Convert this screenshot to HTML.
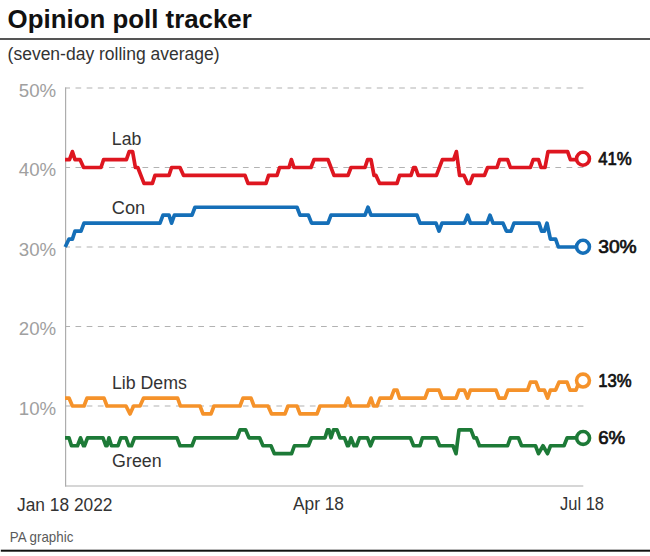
<!DOCTYPE html>
<html><head><meta charset="utf-8"><title>Opinion poll tracker</title>
<style>
html,body{margin:0;padding:0;background:#fff;}
body{width:650px;height:556px;overflow:hidden;}
svg{display:block;font-family:"Liberation Sans",sans-serif;}
</style></head><body>
<svg width="650" height="556" viewBox="0 0 650 556">
<rect width="650" height="556" fill="#fff"/>
<text x="7.6" y="28" font-size="25.8" textLength="244.2" lengthAdjust="spacingAndGlyphs" font-weight="bold" fill="#111">Opinion poll tracker</text>
<rect x="0" y="38" width="650" height="2" fill="#555"/>
<text x="7.6" y="60" font-size="17.5" textLength="212" lengthAdjust="spacingAndGlyphs" fill="#333">(seven-day rolling average)</text>
<line x1="65" y1="88.0" x2="583.4" y2="88.0" stroke="#b2b2b2" stroke-width="1.2" stroke-dasharray="5.7,5.46" stroke-dashoffset="0.66"/><line x1="65" y1="167.5" x2="583.4" y2="167.5" stroke="#b2b2b2" stroke-width="1.2" stroke-dasharray="5.7,5.46" stroke-dashoffset="0.66"/><line x1="65" y1="247.0" x2="583.4" y2="247.0" stroke="#b2b2b2" stroke-width="1.2" stroke-dasharray="5.7,5.46" stroke-dashoffset="0.66"/><line x1="65" y1="326.5" x2="583.4" y2="326.5" stroke="#b2b2b2" stroke-width="1.2" stroke-dasharray="5.7,5.46" stroke-dashoffset="0.66"/><line x1="65" y1="406.0" x2="583.4" y2="406.0" stroke="#b2b2b2" stroke-width="1.2" stroke-dasharray="5.7,5.46" stroke-dashoffset="0.66"/>
<line x1="65.6" y1="87.4" x2="65.6" y2="486.5" stroke="#adadad" stroke-width="1.2"/>
<line x1="65" y1="486" x2="583.3" y2="486" stroke="#adadad" stroke-width="1.1"/>
<text x="18.8" y="96.8" font-size="18" textLength="37.4" lengthAdjust="spacingAndGlyphs" fill="#a0a0a0">50%</text><text x="18.8" y="176.3" font-size="18" textLength="37.4" lengthAdjust="spacingAndGlyphs" fill="#a0a0a0">40%</text><text x="18.8" y="255.8" font-size="18" textLength="37.4" lengthAdjust="spacingAndGlyphs" fill="#a0a0a0">30%</text><text x="18.8" y="335.3" font-size="18" textLength="37.4" lengthAdjust="spacingAndGlyphs" fill="#a0a0a0">20%</text><text x="18.8" y="414.8" font-size="18" textLength="37.4" lengthAdjust="spacingAndGlyphs" fill="#a0a0a0">10%</text>
<polyline points="65,159.55 69.5,159.55 72.4,151.6 75,159.55 80,159.55 83.6,167.5 101,167.5 103.6,159.55 126.4,159.55 129.2,151.6 132.6,151.6 135.4,167.5 137.8,167.5 144,183.4 152.4,183.4 155,175.45 169,175.45 171.6,167.5 180,167.5 183.6,175.45 245,175.45 248,183.4 266,183.4 268.6,175.45 277,175.45 279.6,167.5 289,167.5 291.4,159.55 294,167.5 311,167.5 314,159.55 328,159.55 334,175.45 348,175.45 351,167.5 365,167.5 367.6,159.55 371,159.55 374,175.45 376,175.45 379.6,183.4 397,183.4 399.6,175.45 411,175.45 413.6,167.5 415.4,167.5 418.2,175.45 436.4,175.45 442.4,159.55 453.6,159.55 456.4,151.6 459.6,175.45 464,175.45 467.6,183.4 470,183.4 473,175.45 484.4,175.45 487.6,167.5 497,167.5 499.6,159.55 507.6,159.55 510.4,167.5 530.4,167.5 533.2,159.55 538.5,159.55 541,167.5 545,167.5 548,151.6 567.6,151.6 570.4,159.55 583.6,159.55" fill="none" stroke="#DE1620" stroke-width="3.7" stroke-linejoin="round" stroke-linecap="butt"/>
<polyline points="65.2,247.0 69,239.05 72.4,239.05 75,231.1 81,231.1 84,223.15 160,223.15 163,215.2 169,215.2 171.6,223.15 174.4,215.2 192,215.2 195,207.25 297,207.25 300,215.2 308.4,215.2 311.6,223.15 328,223.15 331,215.2 365,215.2 368,207.25 371,215.2 417,215.2 420,223.15 436,223.15 439,231.1 442,223.15 464.4,223.15 467.6,215.2 470.4,223.15 487,223.15 490,215.2 493,223.15 503,223.15 506.4,231.1 511,231.1 514,223.15 539,223.15 541.6,231.1 544.4,231.1 547,223.15 550.4,239.05 555.6,239.05 558.4,247.0 583.6,247.0" fill="none" stroke="#156FB8" stroke-width="3.7" stroke-linejoin="round" stroke-linecap="butt"/>
<polyline points="65,398.05 69,398.05 72.4,406.0 84,406.0 87,398.05 104,398.05 107,406.0 126,406.0 130,413.95 133.6,406.0 140,406.0 143.6,398.05 177.6,398.05 180.4,406.0 200,406.0 203,413.95 211,413.95 214,406.0 240,406.0 243,398.05 251,398.05 254,406.0 268,406.0 271.6,413.95 285,413.95 288,406.0 297,406.0 300,413.95 317,413.95 320,406.0 345,406.0 348,398.05 351,406.0 368,406.0 371,398.05 373.6,406.0 377,406.0 380,398.05 391,398.05 394,390.1 397,390.1 399.6,398.05 425,398.05 428,390.1 439,390.1 442,398.05 456,398.05 459,390.1 464.4,390.1 467.6,398.05 470.4,390.1 496,390.1 499,398.05 505,398.05 508,390.1 527.6,390.1 530.4,382.15 536,382.15 539,390.1 544.4,390.1 547.6,398.05 550.4,390.1 555.6,390.1 559,382.15 567,382.15 570,390.1 576,390.1 579,382.15 583.6,382.15" fill="none" stroke="#F5922A" stroke-width="3.7" stroke-linejoin="round" stroke-linecap="butt"/>
<polyline points="65,437.8 69,437.8 71.5,445.75 77.5,445.75 80.5,437.8 83.5,445.75 84.5,445.75 87.5,437.8 103,437.8 105.8,445.75 107,445.75 109,437.8 111.5,445.75 118,445.75 120.8,437.8 126,437.8 128.8,445.75 131.5,445.75 134.5,437.8 177,437.8 180,445.75 192,445.75 195,437.8 237,437.8 240,429.85 245.6,429.85 249,437.8 259.6,437.8 263,445.75 271,445.75 274.4,453.7 291.6,453.7 294.4,445.75 308.4,445.75 311.6,437.8 325,437.8 327.5,429.85 329,429.85 331,437.8 333.5,429.85 337,429.85 340,437.8 344.5,437.8 347.5,445.75 348.5,445.75 351,437.8 354,445.75 356.5,445.75 359.5,437.8 367.5,437.8 370.5,445.75 373.8,437.8 410.4,437.8 413.6,445.75 420,445.75 422.4,437.8 436.4,437.8 439.6,445.75 453,445.75 456,453.7 459,429.85 471,429.85 474,437.8 476.4,437.8 479.4,445.75 507.6,445.75 510.4,437.8 518.4,437.8 521.6,445.75 535.5,445.75 538.5,453.7 543,445.75 547.5,453.7 550.5,445.75 564,445.75 567.2,437.8 583,437.8" fill="none" stroke="#1D7A37" stroke-width="3.7" stroke-linejoin="round" stroke-linecap="butt"/>
<circle cx="583.0" cy="158.75" r="6.45" fill="#fff" stroke="#DE1620" stroke-width="3.6"/><circle cx="583.0" cy="246.76" r="6.45" fill="#fff" stroke="#156FB8" stroke-width="3.6"/><circle cx="583.0" cy="380.56" r="6.45" fill="#fff" stroke="#F5922A" stroke-width="3.6"/><circle cx="583.1" cy="437.96" r="6.45" fill="#fff" stroke="#1D7A37" stroke-width="3.6"/>
<text x="598.2" y="165.35000000000002" font-size="18.6" textLength="33.6" lengthAdjust="spacingAndGlyphs" fill="#111" stroke="#111" stroke-width="0.7" stroke-linejoin="round">41%</text><text x="598.2" y="252.8" font-size="18.6" textLength="38.5" lengthAdjust="spacingAndGlyphs" fill="#111" stroke="#111" stroke-width="0.7" stroke-linejoin="round">30%</text><text x="598.2" y="387.16" font-size="18.6" textLength="33.4" lengthAdjust="spacingAndGlyphs" fill="#111" stroke="#111" stroke-width="0.7" stroke-linejoin="round">13%</text><text x="598.2" y="443.6" font-size="18.6" textLength="27" lengthAdjust="spacingAndGlyphs" fill="#111" stroke="#111" stroke-width="0.7" stroke-linejoin="round">6%</text>
<g font-size="17.5" fill="#333" lengthAdjust="spacingAndGlyphs">
<text x="111.8" y="144.8" textLength="29.5" lengthAdjust="spacingAndGlyphs">Lab</text>
<text x="111.8" y="213.8" textLength="33.4" lengthAdjust="spacingAndGlyphs">Con</text>
<text x="111.9" y="388.9" textLength="75" lengthAdjust="spacingAndGlyphs">Lib Dems</text>
<text x="112.1" y="466.8" textLength="49.5" lengthAdjust="spacingAndGlyphs">Green</text>
</g>
<g font-size="17.5" fill="#333">
<text x="17" y="510.5" textLength="95.5" lengthAdjust="spacingAndGlyphs">Jan 18 2022</text>
<text x="293" y="510.4" textLength="51" lengthAdjust="spacingAndGlyphs">Apr 18</text>
<text x="560" y="510.4" textLength="44" lengthAdjust="spacingAndGlyphs">Jul 18</text>
</g>
<text x="9.8" y="542.4" font-size="14.2" textLength="63.5" lengthAdjust="spacingAndGlyphs" fill="#5a5a5a">PA graphic</text>
<rect x="0.8" y="549.7" width="649.2" height="2" fill="#111"/>
</svg>
</body></html>
